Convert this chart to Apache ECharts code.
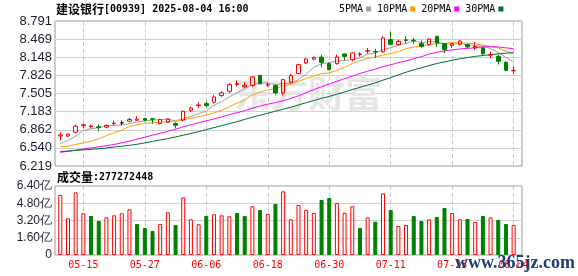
<!DOCTYPE html>
<html>
<head>
<meta charset="utf-8">
<script src="https://cdn.jsdelivr.net/npm/echarts@6/dist/echarts.min.js"></script>
<style>
html, body { margin: 0; padding: 0; background: #fff; }
#main { width: 578px; height: 276px; }
</style>
</head>
<body>
<div id="main"></div>
<script>
var stockName = '建设银行';
var stockInfo = '[00939] 2025-08-04 16:00';
var lastVolume = '277272448';

// 交易日 (05-12 ~ 08-04)
var dates = ['05-12','05-13','05-14','05-15','05-16','05-19','05-20','05-21','05-22','05-23',
  '05-26','05-27','05-28','05-29','05-30','06-02','06-03','06-04','06-05','06-06',
  '06-09','06-10','06-11','06-12','06-13','06-16','06-17','06-18','06-19','06-20',
  '06-23','06-24','06-25','06-26','06-27','06-30','07-02','07-03','07-04','07-07',
  '07-08','07-09','07-10','07-11','07-14','07-15','07-16','07-17','07-18','07-21',
  '07-22','07-23','07-24','07-25','07-28','07-29','07-30','07-31','08-01','08-04'];
var labelIdx = [3, 11, 19, 27, 35, 43, 51, 59];

var opens = [6.751,6.751,6.818,6.933,6.915,6.914,6.907,6.969,6.985,7.013,
  7.031,7.061,7.057,6.972,6.995,6.972,7.034,7.208,7.291,7.326,
  7.349,7.468,7.544,7.668,7.622,7.645,7.828,7.654,7.645,7.516,
  7.704,7.858,8.047,8.114,8.150,8.035,8.035,8.207,8.106,8.199,
  8.258,8.251,8.247,8.460,8.371,8.456,8.451,8.389,8.371,8.518,
  8.389,8.359,8.377,8.371,8.309,8.313,8.185,8.164,8.058,7.907];
var closes = [6.769,6.786,6.924,6.951,6.928,6.901,6.937,6.981,6.985,7.043,
  7.052,7.031,7.048,7.043,7.055,6.942,7.190,7.247,7.303,7.291,
  7.445,7.516,7.663,7.681,7.650,7.799,7.681,7.663,7.516,7.751,
  7.822,8.017,8.118,8.145,8.058,7.929,8.153,8.164,8.224,8.208,
  8.265,8.242,8.490,8.377,8.430,8.447,8.442,8.341,8.472,8.401,
  8.283,8.389,8.437,8.331,8.336,8.212,8.194,8.075,7.916,7.916];
var lows = [6.676,6.729,6.800,6.896,6.884,6.836,6.884,6.942,6.942,6.995,
  7.025,7.013,6.972,6.955,6.985,6.884,7.008,7.179,7.250,7.268,
  7.326,7.445,7.516,7.633,7.604,7.622,7.663,7.622,7.486,7.473,
  7.681,7.845,8.029,8.093,7.969,7.916,8.017,8.093,8.075,8.159,
  8.212,8.136,8.224,8.366,8.354,8.389,8.389,8.313,8.359,8.331,
  8.224,8.313,8.354,8.313,8.274,8.176,8.136,8.017,7.911,7.852];
var highs = [6.818,6.795,6.955,6.972,6.955,6.955,6.955,7.025,7.025,7.073,
  7.101,7.073,7.073,7.055,7.066,6.995,7.202,7.270,7.349,7.367,
  7.480,7.544,7.693,7.739,7.711,7.810,7.828,7.704,7.663,7.764,
  7.852,8.035,8.136,8.159,8.194,8.058,8.194,8.207,8.235,8.235,
  8.313,8.295,8.518,8.596,8.455,8.522,8.490,8.447,8.483,8.518,
  8.401,8.401,8.447,8.384,8.419,8.331,8.242,8.194,8.075,7.987];
var flatIdx = [8];

var ma5 = [6.613,6.671,6.747,6.848,6.880,6.898,6.928,6.940,6.946,6.969,
  7.000,7.018,7.032,7.043,7.046,7.024,7.056,7.095,7.147,7.195,
  7.295,7.360,7.444,7.519,7.591,7.662,7.695,7.695,7.662,7.682,
  7.687,7.754,7.845,7.971,8.032,8.053,8.081,8.090,8.106,8.136,
  8.203,8.221,8.286,8.316,8.361,8.397,8.437,8.407,8.426,8.421,
  8.388,8.377,8.396,8.368,8.355,8.341,8.302,8.230,8.147,8.063];
var ma10 = [6.560,6.570,6.600,6.630,6.659,6.701,6.760,6.807,6.854,6.921,
  6.949,6.973,6.986,6.995,7.008,7.012,7.037,7.064,7.095,7.120,
  7.160,7.208,7.270,7.333,7.393,7.479,7.528,7.569,7.591,7.637,
  7.674,7.724,7.770,7.816,7.857,7.870,7.917,7.967,8.038,8.084,
  8.128,8.151,8.188,8.211,8.248,8.300,8.329,8.347,8.371,8.391,
  8.393,8.407,8.402,8.397,8.388,8.364,8.340,8.313,8.257,8.209];
var ma20 = [6.460,6.480,6.500,6.520,6.540,6.560,6.580,6.600,6.630,6.660,
  6.695,6.730,6.765,6.800,6.835,6.870,6.915,6.950,6.985,7.020,
  7.054,7.091,7.128,7.164,7.200,7.245,7.282,7.316,7.343,7.378,
  7.417,7.466,7.520,7.575,7.625,7.674,7.722,7.768,7.814,7.860,
  7.901,7.937,7.979,8.014,8.053,8.085,8.123,8.157,8.205,8.237,
  8.260,8.279,8.295,8.304,8.318,8.332,8.334,8.330,8.314,8.300];
var ma30 = [6.475,6.485,6.495,6.505,6.515,6.525,6.540,6.555,6.570,6.585,
  6.605,6.630,6.655,6.680,6.705,6.735,6.765,6.795,6.830,6.865,
  6.900,6.935,6.970,7.005,7.045,7.085,7.120,7.155,7.190,7.226,
  7.261,7.302,7.342,7.381,7.419,7.453,7.494,7.533,7.575,7.614,
  7.654,7.694,7.742,7.787,7.833,7.883,7.925,7.961,8.000,8.037,
  8.065,8.094,8.120,8.142,8.164,8.178,8.195,8.209,8.222,8.228];

// 成交量 (亿)
var volumes = [5.57,3.40,5.81,3.87,3.62,3.15,3.49,3.68,3.87,4.24,
  2.88,2.50,2.23,2.88,3.96,2.78,5.35,3.31,2.85,3.62,
  3.78,3.68,3.59,3.90,3.62,4.52,4.17,3.80,4.73,5.91,
  3.31,4.64,4.17,3.90,5.10,5.29,4.82,3.92,4.52,2.50,
  3.49,3.09,5.72,4.17,2.69,2.78,3.62,3.15,3.31,3.53,
  4.36,3.90,3.31,3.34,3.06,3.62,3.49,3.25,2.88,2.7727];
var volUp = [1,1,1,1,0,0,1,1,1,1,0,0,0,1,1,0,1,1,1,
  0,1,1,1,0,0,1,0,1,0,1,1,1,1,1,0,0,1,1,1,0,1,0,
  1,0,1,1,0,0,1,0,0,1,1,0,1,0,1,0,0,1];

var priceTicks = ['6.219','6.540','6.862','7.183','7.505','7.826','8.148','8.469','8.791'];
var volTicks = ['0','1.60亿','3.20亿','4.80亿','6.40亿'];

var maNames = ['5PMA', '10PMA', '20PMA', '30PMA'];
var maColors = ['#a0a0a0', '#f5a200', '#ff00ff', '#006f30'];

var RED = '#ff0000', GREEN = '#008000';
var MONO = 'DejaVu Sans Mono';
var CJK = 'Noto Sans CJK SC';

var pMin = +priceTicks[0], pMax = +priceTicks[priceTicks.length - 1];
var pStep = (pMax - pMin) / (priceTicks.length - 1);
var vMax = parseFloat(volTicks[volTicks.length - 1]);
var vStep = vMax / (volTicks.length - 1);

var chart = echarts.init(document.getElementById('main'));

function xy(arr) {
  return arr.map(function (v, i) { return [i, v]; });
}

var candleData = opens.map(function (o, i) {
  var item = { value: [i, o, closes[i], lows[i], highs[i]] };
  if (flatIdx.indexOf(i) >= 0) {
    item.itemStyle = { color: '#000', color0: '#000', borderColor: '#000', borderColor0: '#000' };
  }
  return item;
});

var volData = volumes.map(function (v, i) {
  var up = volUp[i] === 1;
  return {
    value: [i, v],
    itemStyle: { color: up ? '#fff' : GREEN, borderColor: up ? RED : GREEN, borderWidth: 1 }
  };
});

function makeXAxis(gridIndex, showLabel) {
  return {
    type: 'value',
    gridIndex: gridIndex,
    min: -0.69,
    max: 60.09,
    axisLine: { show: false },
    axisTick: { show: false, customValues: labelIdx },
    axisLabel: {
      show: showLabel,
      customValues: labelIdx,
      margin: 5,
      color: RED,
      fontFamily: MONO,
      fontSize: 10,
      formatter: function (v) { return dates[Math.round(v)]; }
    },
    splitLine: { show: true, lineStyle: { color: '#c8c8c8', type: [4, 3], width: 1 } }
  };
}

var series = [];
maNames.forEach(function (name, k) {
  series.push({
    name: name,
    type: 'line',
    xAxisIndex: 0,
    yAxisIndex: 0,
    data: xy([ma5, ma10, ma20, ma30][k]),
    showSymbol: false,
    symbol: 'none',
    lineStyle: { width: 1, color: maColors[k] },
    itemStyle: { color: maColors[k] },
    z: 2
  });
});
series.push({
  type: 'candlestick',
  xAxisIndex: 0,
  yAxisIndex: 0,
  data: candleData,
  barWidth: 4,
  itemStyle: {
    color: 'rgba(255,255,255,0)',
    color0: GREEN,
    borderColor: RED,
    borderColor0: GREEN,
    borderWidth: 1
  },
  z: 3
});
series.push({
  type: 'bar',
  xAxisIndex: 1,
  yAxisIndex: 1,
  data: volData,
  barWidth: 4
});

var option = {
  animation: false,
  backgroundColor: '#fff',
  title: [
    {
      left: 56, top: 3, padding: 0,
      text: '{c|' + stockName + '}{m|' + stockInfo + '}',
      textStyle: {
        rich: {
          c: { fontFamily: CJK, fontSize: 12, color: '#000' },
          m: { fontFamily: MONO, fontSize: 10, color: '#000' }
        }
      }
    },
    {
      left: 57, top: 171, padding: 0,
      text: '{c|成交量}{m|:' + lastVolume + '}',
      textStyle: {
        rich: {
          c: { fontFamily: CJK, fontSize: 12, color: '#000' },
          m: { fontFamily: MONO, fontSize: 10, color: '#000' }
        }
      }
    }
  ],
  legend: {
    data: maNames,
    left: 339,
    top: 4,
    padding: 0,
    align: 'right',
    icon: 'rect',
    itemWidth: 5,
    itemHeight: 5,
    itemGap: 6,
    selectedMode: false,
    textStyle: { fontFamily: MONO, fontSize: 10, color: '#000', padding: [0, -2, 0, 0] }
  },
  grid: [
    { left: 55, top: 21, width: 467, height: 145, show: true, borderColor: '#999', borderWidth: 1, backgroundColor: 'rgba(0,0,0,0)' },
    { left: 55, top: 186, width: 467, height: 69, show: true, borderColor: '#999', borderWidth: 1, backgroundColor: 'rgba(0,0,0,0)' }
  ],
  xAxis: [makeXAxis(0, false), makeXAxis(1, true)],
  yAxis: [
    {
      type: 'value',
      gridIndex: 0,
      min: pMin,
      max: pMax,
      interval: pStep,
      axisLine: { show: false },
      axisTick: { show: false },
      axisLabel: {
        margin: 3,
        fontFamily: 'Liberation Sans',
        fontSize: 13,
        color: '#1c1c30',
        formatter: function (v) { return priceTicks[Math.round((v - pMin) / pStep)]; }
      },
      splitLine: { lineStyle: { color: '#d0d0d0', width: 1 } }
    },
    {
      type: 'value',
      gridIndex: 1,
      min: 0,
      max: vMax,
      interval: vStep,
      axisLine: { show: false },
      axisTick: { show: false },
      axisLabel: {
        margin: 3,
        fontFamily: 'Liberation Sans',
        fontSize: 12,
        color: '#1c1c30',
        formatter: function (v) { return volTicks[Math.round(v / vStep)]; }
      },
      splitLine: { lineStyle: { color: '#d0d0d0', width: 1 } }
    }
  ],
  graphic: [
    {
      type: 'text', left: 234, top: 75, z: 1, silent: true,
      style: { text: '东方财富', font: 'bold 37px "Noto Sans CJK SC"', fill: '#e6e6e6' }
    },
    {
      type: 'text', left: 455, top: 254, z: 100, silent: true,
      style: { text: 'www.365jz.com', font: 'bold 18px "Liberation Serif"', fill: '#1d3d7a' }
    }
  ],
  series: series
};

chart.setOption(option);
window.addEventListener('resize', chart.resize);
</script>
</body>
</html>
